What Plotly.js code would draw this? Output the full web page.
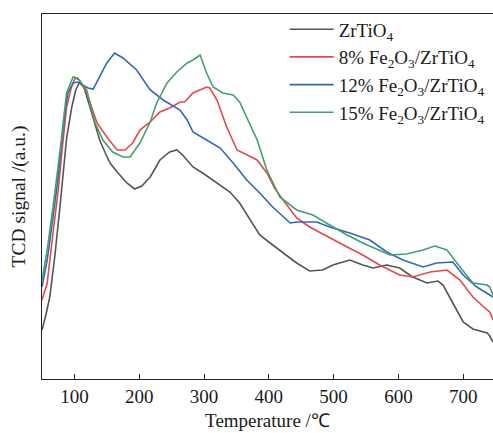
<!DOCTYPE html>
<html>
<head>
<meta charset="utf-8">
<script src="https://cdn.plot.ly/plotly-3.0.1.min.js"></script>
<style>html,body{margin:0;padding:0;background:#fff;}#chart{width:493px;height:433px;}</style>
</head>
<body>
<div id="chart"></div>
<script>
// Temperature (°C) and TCD signal (a.u.)
const seriesNames = ["ZrTiO<sub>4</sub>", "8% Fe<sub>2</sub>O<sub>3</sub>/ZrTiO<sub>4</sub>", "12% Fe<sub>2</sub>O<sub>3</sub>/ZrTiO<sub>4</sub>", "15% Fe<sub>2</sub>O<sub>3</sub>/ZrTiO<sub>4</sub>"];

const tZr = [50,56,62,70,78,84,88,96,102,108,115,124,132,139,147,155,166,181,193,204,217,232,247,258,267,283,298,320,340,355,371,386,402,417,443,463,483,499,525,545,561,582,602,622,644,661,669,684,700,715,737,741,746];
const sZr = [49,64,82,124,174,219,241,272,289,297,291,272,254,239,227,216,207,196,190,193,202,219,227,229,224,212,206,196,187,176,159,144,136,129,116,108,109,114,119,114,111,114,111,102,96,98,94,76,57,50,46,43,37];

const tFe8 = [50,58,67,75,81,88,95,101,108,119,135,150,166,178,190,201,217,232,247,263,270,283,304,309,320,335,351,366,382,397,409,422,443,463,494,521,545,571,602,622,649,675,695,715,737,741,746];
const sFe8 = [79,96,146,189,229,272,291,301,299,286,256,242,229,229,236,249,257,267,271,277,277,286,292,291,279,252,229,224,219,206,191,179,161,152,141,132,124,114,104,102,107,109,99,82,69,67,59];

const tFe12 = [50,58,67,75,79,85,90,98,105,113,121,129,136,150,162,175,196,217,237,263,274,283,304,325,345,366,386,406,433,443,474,494,525,556,582,607,638,659,684,700,721,746];
const sFe12 = [92,119,162,202,229,264,286,296,297,294,291,290,299,316,326,321,309,289,279,269,259,247,239,231,216,199,186,172,156,157,157,152,146,139,127,119,112,116,117,104,92,82];

const tFe15 = [50,58,67,75,78,84,88,98,105,119,132,144,159,175,186,201,217,227,243,258,274,283,294,304,314,329,345,355,366,382,397,417,443,468,494,521,545,571,587,613,638,656,675,695,715,737,741,746];
const sFe15 = [99,129,172,212,229,264,286,302,301,289,256,239,227,222,222,236,257,276,296,307,316,319,324,306,292,286,284,277,262,239,209,182,169,164,154,144,136,129,124,125,129,133,129,112,96,94,92,84];

const xTicks = [100,200,300,400,500,600,700];

const colors = ["#555555", "#e5484d", "#3467b8", "#43a06c"];
const xs = [tZr, tFe8, tFe12, tFe15];
const ys = [sZr, sFe8, sFe12, sFe15];

const traces = xs.map((x, i) => ({
  x: x, y: ys[i], type: "scatter", mode: "lines",
  name: seriesNames[i],
  line: {color: colors[i], width: 1.6}
}));

const layout = {
  width: 493, height: 433,
  margin: {l: 42, r: 0, t: 14, b: 54},
  paper_bgcolor: "#ffffff", plot_bgcolor: "#ffffff",
  font: {family: "Liberation Serif, Times New Roman, serif", size: 19, color: "#1a1a1a"},
  showlegend: true,
  legend: {x: 0.538, y: 1.01, xanchor: "left", yanchor: "top", bgcolor: "rgba(0,0,0,0)",
           font: {size: 19, family: "Liberation Serif, serif", color: "#1a1a1a"}, tracegroupgap: 0, itemwidth: 44},
  xaxis: {range: [50, 746], tickvals: xTicks, ticktext: xTicks.map(String),
          ticks: "inside", ticklen: 5, tickcolor: "#222", showline: true, linecolor: "#222", linewidth: 1.2,
          mirror: true, showgrid: false, zeroline: false,
          tickfont: {size: 19},
          title: {text: "Temperature /℃", font: {size: 19}, standoff: 7}},
  yaxis: {range: [0, 365], showticklabels: false, ticks: "", showline: true, linecolor: "#222", linewidth: 1.2,
          mirror: false, showgrid: false, zeroline: false,
          title: {text: "TCD signal /(a.u.)", font: {size: 19.5}, standoff: 10}}
};

Plotly.newPlot("chart", traces, layout, {displayModeBar: false, staticPlot: true});
</script>
</body>
</html>
